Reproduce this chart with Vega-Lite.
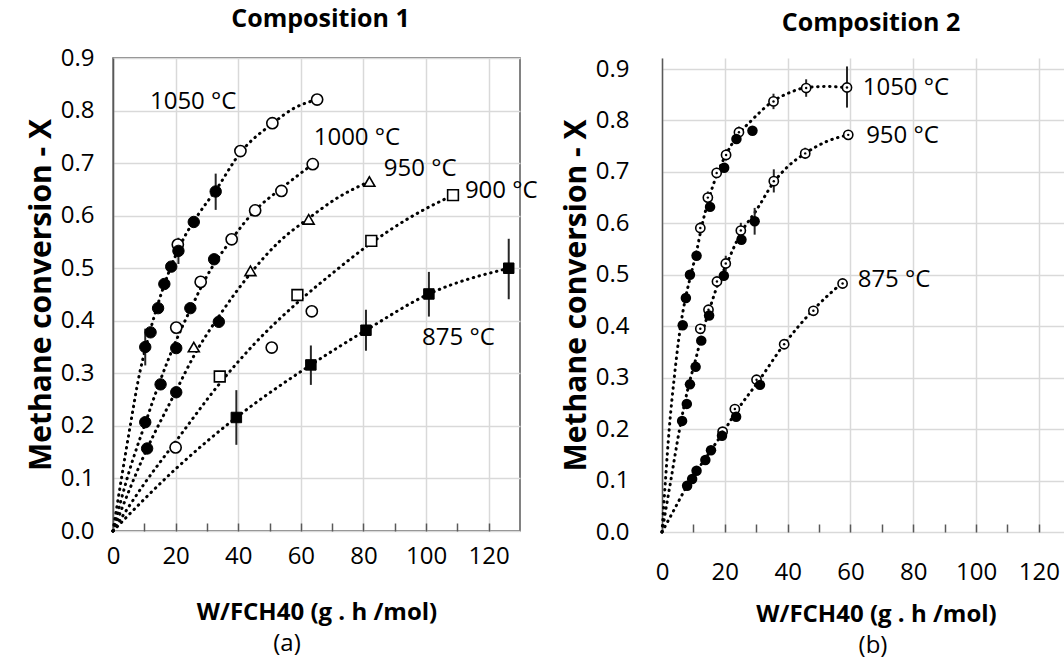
{
  "$schema": "https://vega.github.io/schema/vega-lite/v6.json",
  "background": "white",
  "padding": {"left": 25, "top": 6, "right": 0, "bottom": 0},
  "config": {
    "font": "Open Sans",
    "view": {"stroke": "#595959", "strokeWidth": 1.5},
    "axis": {
      "labelFontSize": 24, "labelColor": "black", "labelFont": "Open Sans",
      "titleFontSize": 24, "titleColor": "black", "titleFontWeight": "bold", "titleFont": "Open Sans",
      "gridColor": "#d9d9d9", "gridWidth": 1.5,
      "domainColor": "#595959", "domainWidth": 1.5,
      "tickColor": "#595959", "tickWidth": 1.5,
      "labelOverlap": false, "labelFlush": false
    },
    "axisY": {"titleFontSize": 30},
    "title": {"font": "Open Sans", "fontSize": 25, "fontWeight": "bold", "color": "black"}
  },
  "datasets": {
    "pts": [
      {"p": 1, "s": "1050", "m": "fc", "x": 10.3, "y": 0.350, "lo": 0.315, "hi": 0.385},
      {"p": 1, "s": "1050", "m": "fc", "x": 12.0, "y": 0.378},
      {"p": 1, "s": "1050", "m": "fc", "x": 14.4, "y": 0.424},
      {"p": 1, "s": "1050", "m": "fc", "x": 16.4, "y": 0.470},
      {"p": 1, "s": "1050", "m": "fc", "x": 18.6, "y": 0.503},
      {"p": 1, "s": "1050", "m": "fc", "x": 20.9, "y": 0.533, "lo": 0.508, "hi": 0.558},
      {"p": 1, "s": "1050", "m": "fc", "x": 25.8, "y": 0.588},
      {"p": 1, "s": "1050", "m": "fc", "x": 32.8, "y": 0.646, "lo": 0.611, "hi": 0.680},
      {"p": 1, "s": "1050", "m": "oc", "x": 20.7, "y": 0.545},
      {"p": 1, "s": "1050", "m": "oc", "x": 40.7, "y": 0.723},
      {"p": 1, "s": "1050", "m": "oc", "x": 50.9, "y": 0.776},
      {"p": 1, "s": "1050", "m": "oc", "x": 65.2, "y": 0.821},
      {"p": 1, "s": "1000", "m": "fc", "x": 10.3, "y": 0.207},
      {"p": 1, "s": "1000", "m": "fc", "x": 15.2, "y": 0.279},
      {"p": 1, "s": "1000", "m": "fc", "x": 20.2, "y": 0.348},
      {"p": 1, "s": "1000", "m": "fc", "x": 24.7, "y": 0.424},
      {"p": 1, "s": "1000", "m": "fc", "x": 32.3, "y": 0.517},
      {"p": 1, "s": "1000", "m": "oc", "x": 20.2, "y": 0.387},
      {"p": 1, "s": "1000", "m": "oc", "x": 28.0, "y": 0.474},
      {"p": 1, "s": "1000", "m": "oc", "x": 37.9, "y": 0.555},
      {"p": 1, "s": "1000", "m": "oc", "x": 45.4, "y": 0.610},
      {"p": 1, "s": "1000", "m": "oc", "x": 53.8, "y": 0.647},
      {"p": 1, "s": "1000", "m": "oc", "x": 63.8, "y": 0.698},
      {"p": 1, "s": "950", "m": "fc", "x": 10.9, "y": 0.157},
      {"p": 1, "s": "950", "m": "fc", "x": 20.2, "y": 0.264},
      {"p": 1, "s": "950", "m": "fc", "x": 33.8, "y": 0.398},
      {"p": 1, "s": "950", "m": "tri", "x": 25.8, "y": 0.350},
      {"p": 1, "s": "950", "m": "tri", "x": 43.9, "y": 0.495},
      {"p": 1, "s": "950", "m": "tri", "x": 62.5, "y": 0.593},
      {"p": 1, "s": "950", "m": "tri", "x": 81.9, "y": 0.665},
      {"p": 1, "s": "900", "m": "oc", "x": 20.0, "y": 0.159},
      {"p": 1, "s": "900", "m": "oc", "x": 50.7, "y": 0.349},
      {"p": 1, "s": "900", "m": "oc", "x": 63.5, "y": 0.418},
      {"p": 1, "s": "900", "m": "osq", "x": 34.1, "y": 0.294},
      {"p": 1, "s": "900", "m": "osq", "x": 58.9, "y": 0.449},
      {"p": 1, "s": "900", "m": "osq", "x": 82.5, "y": 0.552},
      {"p": 1, "s": "900", "m": "osq", "x": 108.6, "y": 0.639},
      {"p": 1, "s": "875", "m": "fsq", "x": 39.4, "y": 0.216, "lo": 0.164, "hi": 0.268},
      {"p": 1, "s": "875", "m": "fsq", "x": 63.2, "y": 0.316, "lo": 0.278, "hi": 0.353},
      {"p": 1, "s": "875", "m": "fsq", "x": 80.8, "y": 0.382, "lo": 0.343, "hi": 0.421},
      {"p": 1, "s": "875", "m": "fsq", "x": 100.9, "y": 0.451, "lo": 0.408, "hi": 0.493},
      {"p": 1, "s": "875", "m": "fsq", "x": 126.4, "y": 0.500, "lo": 0.441, "hi": 0.556},

      {"p": 2, "s": "1050", "m": "fc", "x": 6.6, "y": 0.402},
      {"p": 2, "s": "1050", "m": "fc", "x": 7.6, "y": 0.455},
      {"p": 2, "s": "1050", "m": "fc", "x": 8.9, "y": 0.500},
      {"p": 2, "s": "1050", "m": "fc", "x": 11.0, "y": 0.537},
      {"p": 2, "s": "1050", "m": "fc", "x": 15.3, "y": 0.632},
      {"p": 2, "s": "1050", "m": "fc", "x": 19.8, "y": 0.708},
      {"p": 2, "s": "1050", "m": "fc", "x": 23.7, "y": 0.764},
      {"p": 2, "s": "1050", "m": "fc", "x": 28.8, "y": 0.780},
      {"p": 2, "s": "1050", "m": "oc", "x": 12.2, "y": 0.591, "lo": 0.580, "hi": 0.602},
      {"p": 2, "s": "1050", "m": "oc", "x": 14.6, "y": 0.650, "lo": 0.638, "hi": 0.662},
      {"p": 2, "s": "1050", "m": "oc", "x": 17.4, "y": 0.698, "lo": 0.688, "hi": 0.708},
      {"p": 2, "s": "1050", "m": "oc", "x": 20.4, "y": 0.733, "lo": 0.722, "hi": 0.744},
      {"p": 2, "s": "1050", "m": "oc", "x": 24.5, "y": 0.777, "lo": 0.766, "hi": 0.788},
      {"p": 2, "s": "1050", "m": "oc", "x": 35.5, "y": 0.837, "lo": 0.822, "hi": 0.852},
      {"p": 2, "s": "1050", "m": "oc", "x": 45.9, "y": 0.863, "lo": 0.846, "hi": 0.880},
      {"p": 2, "s": "1050", "m": "oc", "x": 58.9, "y": 0.864, "lo": 0.825, "hi": 0.905},
      {"p": 2, "s": "950", "m": "fc", "x": 6.4, "y": 0.216},
      {"p": 2, "s": "950", "m": "fc", "x": 7.9, "y": 0.249},
      {"p": 2, "s": "950", "m": "fc", "x": 8.9, "y": 0.287},
      {"p": 2, "s": "950", "m": "fc", "x": 10.7, "y": 0.321},
      {"p": 2, "s": "950", "m": "fc", "x": 12.5, "y": 0.372},
      {"p": 2, "s": "950", "m": "fc", "x": 15.0, "y": 0.421},
      {"p": 2, "s": "950", "m": "fc", "x": 19.7, "y": 0.498},
      {"p": 2, "s": "950", "m": "fc", "x": 25.3, "y": 0.568},
      {"p": 2, "s": "950", "m": "fc", "x": 29.5, "y": 0.604, "lo": 0.578, "hi": 0.630},
      {"p": 2, "s": "950", "m": "oc", "x": 12.2, "y": 0.395},
      {"p": 2, "s": "950", "m": "oc", "x": 14.8, "y": 0.432},
      {"p": 2, "s": "950", "m": "oc", "x": 17.5, "y": 0.487},
      {"p": 2, "s": "950", "m": "oc", "x": 20.3, "y": 0.522, "lo": 0.507, "hi": 0.537},
      {"p": 2, "s": "950", "m": "oc", "x": 25.1, "y": 0.586, "lo": 0.571, "hi": 0.601},
      {"p": 2, "s": "950", "m": "oc", "x": 35.6, "y": 0.682, "lo": 0.660, "hi": 0.705},
      {"p": 2, "s": "950", "m": "oc", "x": 45.6, "y": 0.736, "lo": 0.725, "hi": 0.747},
      {"p": 2, "s": "950", "m": "oc", "x": 59.3, "y": 0.772},
      {"p": 2, "s": "875", "m": "fc", "x": 8.0, "y": 0.090},
      {"p": 2, "s": "875", "m": "fc", "x": 9.6, "y": 0.103},
      {"p": 2, "s": "875", "m": "fc", "x": 11.0, "y": 0.119},
      {"p": 2, "s": "875", "m": "fc", "x": 13.8, "y": 0.140},
      {"p": 2, "s": "875", "m": "fc", "x": 15.6, "y": 0.159},
      {"p": 2, "s": "875", "m": "fc", "x": 19.1, "y": 0.187},
      {"p": 2, "s": "875", "m": "fc", "x": 23.6, "y": 0.224},
      {"p": 2, "s": "875", "m": "fc", "x": 31.2, "y": 0.286},
      {"p": 2, "s": "875", "m": "oc", "x": 19.3, "y": 0.195},
      {"p": 2, "s": "875", "m": "oc", "x": 23.2, "y": 0.239},
      {"p": 2, "s": "875", "m": "oc", "x": 30.1, "y": 0.296},
      {"p": 2, "s": "875", "m": "oc", "x": 38.9, "y": 0.365},
      {"p": 2, "s": "875", "m": "oc", "x": 48.2, "y": 0.430},
      {"p": 2, "s": "875", "m": "oc", "x": 57.5, "y": 0.483}
    ],
    "trend": [
      {"p": 1, "s": "1050", "x": 0, "y": 0},
      {"p": 1, "s": "1050", "x": 2.7, "y": 0.1},
      {"p": 1, "s": "1050", "x": 5.5, "y": 0.2},
      {"p": 1, "s": "1050", "x": 8.5, "y": 0.3},
      {"p": 1, "s": "1050", "x": 10.5, "y": 0.35},
      {"p": 1, "s": "1050", "x": 14, "y": 0.425},
      {"p": 1, "s": "1050", "x": 18, "y": 0.495},
      {"p": 1, "s": "1050", "x": 22, "y": 0.55},
      {"p": 1, "s": "1050", "x": 27, "y": 0.6},
      {"p": 1, "s": "1050", "x": 33, "y": 0.65},
      {"p": 1, "s": "1050", "x": 40.7, "y": 0.72},
      {"p": 1, "s": "1050", "x": 50.9, "y": 0.775},
      {"p": 1, "s": "1050", "x": 58, "y": 0.805},
      {"p": 1, "s": "1050", "x": 65.2, "y": 0.821},
      {"p": 1, "s": "1000", "x": 0, "y": 0},
      {"p": 1, "s": "1000", "x": 5, "y": 0.11},
      {"p": 1, "s": "1000", "x": 10.3, "y": 0.205},
      {"p": 1, "s": "1000", "x": 15, "y": 0.285},
      {"p": 1, "s": "1000", "x": 20, "y": 0.36},
      {"p": 1, "s": "1000", "x": 25, "y": 0.425},
      {"p": 1, "s": "1000", "x": 30, "y": 0.485},
      {"p": 1, "s": "1000", "x": 37.9, "y": 0.555},
      {"p": 1, "s": "1000", "x": 45.4, "y": 0.61},
      {"p": 1, "s": "1000", "x": 53.8, "y": 0.652},
      {"p": 1, "s": "1000", "x": 63.8, "y": 0.698},
      {"p": 1, "s": "950", "x": 0, "y": 0},
      {"p": 1, "s": "950", "x": 10, "y": 0.145},
      {"p": 1, "s": "950", "x": 20, "y": 0.265},
      {"p": 1, "s": "950", "x": 26, "y": 0.335},
      {"p": 1, "s": "950", "x": 34, "y": 0.41},
      {"p": 1, "s": "950", "x": 43.9, "y": 0.49},
      {"p": 1, "s": "950", "x": 53, "y": 0.55},
      {"p": 1, "s": "950", "x": 62.5, "y": 0.595},
      {"p": 1, "s": "950", "x": 72, "y": 0.635},
      {"p": 1, "s": "950", "x": 81.9, "y": 0.665},
      {"p": 1, "s": "900", "x": 0, "y": 0},
      {"p": 1, "s": "900", "x": 10, "y": 0.09},
      {"p": 1, "s": "900", "x": 20, "y": 0.17},
      {"p": 1, "s": "900", "x": 34, "y": 0.28},
      {"p": 1, "s": "900", "x": 45, "y": 0.355},
      {"p": 1, "s": "900", "x": 59, "y": 0.435},
      {"p": 1, "s": "900", "x": 70, "y": 0.49},
      {"p": 1, "s": "900", "x": 82.5, "y": 0.548},
      {"p": 1, "s": "900", "x": 95, "y": 0.597},
      {"p": 1, "s": "900", "x": 108.6, "y": 0.639},
      {"p": 1, "s": "875", "x": 0, "y": 0},
      {"p": 1, "s": "875", "x": 20, "y": 0.118},
      {"p": 1, "s": "875", "x": 39.4, "y": 0.216},
      {"p": 1, "s": "875", "x": 63.2, "y": 0.316},
      {"p": 1, "s": "875", "x": 80.8, "y": 0.382},
      {"p": 1, "s": "875", "x": 100.9, "y": 0.451},
      {"p": 1, "s": "875", "x": 126.4, "y": 0.5},
      {"p": 2, "s": "1050", "x": 0, "y": 0},
      {"p": 2, "s": "1050", "x": 1.1, "y": 0.1},
      {"p": 2, "s": "1050", "x": 2.3, "y": 0.2},
      {"p": 2, "s": "1050", "x": 3.9, "y": 0.3},
      {"p": 2, "s": "1050", "x": 5.9, "y": 0.4},
      {"p": 2, "s": "1050", "x": 7.5, "y": 0.455},
      {"p": 2, "s": "1050", "x": 9.2, "y": 0.5},
      {"p": 2, "s": "1050", "x": 11, "y": 0.545},
      {"p": 2, "s": "1050", "x": 12.5, "y": 0.59},
      {"p": 2, "s": "1050", "x": 14.8, "y": 0.645},
      {"p": 2, "s": "1050", "x": 17.5, "y": 0.695},
      {"p": 2, "s": "1050", "x": 20.5, "y": 0.735},
      {"p": 2, "s": "1050", "x": 24, "y": 0.77},
      {"p": 2, "s": "1050", "x": 28.5, "y": 0.8},
      {"p": 2, "s": "1050", "x": 35.5, "y": 0.838},
      {"p": 2, "s": "1050", "x": 41, "y": 0.855},
      {"p": 2, "s": "1050", "x": 45.9, "y": 0.864},
      {"p": 2, "s": "1050", "x": 52, "y": 0.866},
      {"p": 2, "s": "1050", "x": 58.9, "y": 0.864},
      {"p": 2, "s": "950", "x": 0, "y": 0},
      {"p": 2, "s": "950", "x": 2.8, "y": 0.1},
      {"p": 2, "s": "950", "x": 5.6, "y": 0.2},
      {"p": 2, "s": "950", "x": 8.3, "y": 0.28},
      {"p": 2, "s": "950", "x": 10.7, "y": 0.335},
      {"p": 2, "s": "950", "x": 13, "y": 0.39},
      {"p": 2, "s": "950", "x": 15.5, "y": 0.44},
      {"p": 2, "s": "950", "x": 18, "y": 0.485},
      {"p": 2, "s": "950", "x": 20.5, "y": 0.52},
      {"p": 2, "s": "950", "x": 25, "y": 0.58},
      {"p": 2, "s": "950", "x": 30, "y": 0.625},
      {"p": 2, "s": "950", "x": 35.6, "y": 0.68},
      {"p": 2, "s": "950", "x": 40, "y": 0.71},
      {"p": 2, "s": "950", "x": 45.6, "y": 0.736},
      {"p": 2, "s": "950", "x": 52, "y": 0.758},
      {"p": 2, "s": "950", "x": 59.3, "y": 0.772},
      {"p": 2, "s": "875", "x": 0, "y": 0},
      {"p": 2, "s": "875", "x": 4, "y": 0.045},
      {"p": 2, "s": "875", "x": 8, "y": 0.09},
      {"p": 2, "s": "875", "x": 11, "y": 0.118},
      {"p": 2, "s": "875", "x": 15.6, "y": 0.159},
      {"p": 2, "s": "875", "x": 19.2, "y": 0.191},
      {"p": 2, "s": "875", "x": 23.4, "y": 0.232},
      {"p": 2, "s": "875", "x": 30.6, "y": 0.292},
      {"p": 2, "s": "875", "x": 38.9, "y": 0.365},
      {"p": 2, "s": "875", "x": 48.2, "y": 0.432},
      {"p": 2, "s": "875", "x": 57.5, "y": 0.485}
    ],
    "labels": [
      {"p": 1, "x": 11.8, "y": 0.816, "t": "1050 °C"},
      {"p": 1, "x": 64.1, "y": 0.748, "t": "1000 °C"},
      {"p": 1, "x": 86.5, "y": 0.689, "t": "950 °C"},
      {"p": 1, "x": 112.4, "y": 0.647, "t": "900 °C"},
      {"p": 1, "x": 98.7, "y": 0.367, "t": "875 °C"},
      {"p": 2, "x": 63.9, "y": 0.864, "t": "1050 °C"},
      {"p": 2, "x": 65.0, "y": 0.769, "t": "950 °C"},
      {"p": 2, "x": 62.3, "y": 0.489, "t": "875 °C"}
    ]
  },
  "spacing": 22,
  "hconcat": [
    {
      "title": {"text": "(a)", "orient": "bottom", "anchor": "middle", "frame": "group", "fontWeight": "normal", "fontSize": 24, "offset": 7, "dx": 174},
      "vconcat": [
        {
          "width": 407,
          "height": 473,
          "title": {"text": "Composition 1", "offset": 14, "dx": 4},
          "encoding": {
            "x": {"field": "x", "type": "quantitative", "title": "W/FCH40  (g . h /mol)",
              "scale": {"domain": [0, 130], "nice": false, "zero": false},
              "axis": {"values": [0, 10, 20, 30, 40, 50, 60, 70, 80, 90, 100, 110, 120],
                "labelExpr": "datum.value % 20 === 0 ? datum.label : ''",
                "gridOpacity": {"condition": {"test": "datum.value % 20 === 0", "value": 1}, "value": 0},
                "domain": false, "offset": -8, "tickSize": 8, "labelPadding": 13, "titlePadding": 32}},
            "y": {"field": "y", "type": "quantitative", "title": "Methane conversion - X",
              "scale": {"domain": [0, 0.9], "nice": false, "zero": false},
              "axis": {"values": [0, 0.1, 0.2, 0.3, 0.4, 0.5, 0.6, 0.7, 0.8, 0.9], "format": ".1f",
                "ticks": false, "labelPadding": 19, "titlePadding": 4}}
          },
          "layer": [
            {"data": {"name": "trend"}, "transform": [{"filter": "datum.p == 1"}],
              "mark": {"type": "line", "interpolate": "monotone", "strokeDash": [0.5, 5.5], "strokeCap": "round", "strokeWidth": 3, "color": "black"},
              "encoding": {"detail": {"field": "s"}}},
            {"data": {"name": "pts"}, "transform": [{"filter": "datum.p == 1 && isValid(datum.lo)"}],
              "mark": {"type": "rule", "color": "#262626", "strokeWidth": 2},
              "encoding": {"y": {"field": "lo", "type": "quantitative", "title": "Methane conversion - X"}, "y2": {"field": "hi"}}},
            {"data": {"name": "pts"}, "transform": [{"filter": "datum.p == 1 && (datum.m == 'oc' || datum.m == 'tri' || datum.m == 'osq')"}],
              "mark": {"type": "point", "filled": true, "fill": "white", "stroke": "black", "strokeWidth": 1.6, "opacity": 1},
              "encoding": {
                "shape": {"field": "m", "scale": {"domain": ["fc", "oc", "tri", "osq", "fsq"], "range": ["circle", "circle", "triangle-up", "square", "square"]}, "legend": null},
                "size": {"field": "m", "scale": {"domain": ["fc", "oc", "tri", "osq", "fsq"], "range": [130, 110, 85, 130, 140]}, "legend": null}}},
            {"data": {"name": "pts"}, "transform": [{"filter": "datum.p == 1 && (datum.m == 'fc' || datum.m == 'fsq')"}],
              "mark": {"type": "point", "filled": true, "fill": "black", "stroke": "black", "strokeWidth": 1, "opacity": 1},
              "encoding": {
                "shape": {"field": "m", "scale": {"domain": ["fc", "oc", "tri", "osq", "fsq"], "range": ["circle", "circle", "triangle-up", "square", "square"]}, "legend": null},
                "size": {"field": "m", "scale": {"domain": ["fc", "oc", "tri", "osq", "fsq"], "range": [130, 110, 85, 130, 140]}, "legend": null}}},
            {"data": {"name": "labels"}, "transform": [{"filter": "datum.p == 1"}],
              "mark": {"type": "text", "align": "left", "baseline": "middle", "fontSize": 24, "font": "Open Sans", "color": "black"},
              "encoding": {"text": {"field": "t"}}}
          ]
        }
      ]
    },
    {
      "title": {"text": "(b)", "orient": "bottom", "anchor": "middle", "frame": "group", "fontWeight": "normal", "fontSize": 24, "offset": 8, "dx": 211},
      "vconcat": [
        {
          "width": 402,
          "height": 474,
          "view": {"stroke": null},
          "title": {"text": "Composition 2", "offset": 21, "dx": 8},
          "encoding": {
            "x": {"field": "x", "type": "quantitative", "title": "W/FCH40  (g . h /mol)",
              "scale": {"domain": [0, 128], "nice": false, "zero": false},
              "axis": {"values": [0, 10, 20, 30, 40, 50, 60, 70, 80, 90, 100, 110, 120],
                "labelExpr": "datum.value % 20 === 0 ? datum.label : ''",
                "gridOpacity": {"condition": {"test": "datum.value % 20 === 0", "value": 1}, "value": 0},
                "domain": false, "offset": -8, "tickSize": 8, "labelPadding": 28, "titlePadding": 18, "titleX": 214}},
            "y": {"field": "y", "type": "quantitative", "title": "Methane conversion - X",
              "scale": {"domain": [0, 0.9214], "nice": false, "zero": false},
              "axis": {"values": [0, 0.1, 0.2, 0.3, 0.4, 0.5, 0.6, 0.7, 0.8, 0.9], "format": ".1f",
                "ticks": false, "labelPadding": 33, "titlePadding": 4}}
          },
          "layer": [
            {"mark": {"type": "rule", "color": "#595959", "strokeWidth": 1.5},
              "encoding": {"y": {"datum": 0.916, "type": "quantitative"}, "x": null}},
            {"mark": {"type": "rule", "color": "#595959", "strokeWidth": 1.5},
              "encoding": {"y": {"datum": 0, "type": "quantitative"}, "x": null}},
            {"data": {"name": "trend"}, "transform": [{"filter": "datum.p == 2"}],
              "mark": {"type": "line", "interpolate": "monotone", "strokeDash": [0.5, 5.5], "strokeCap": "round", "strokeWidth": 3, "color": "black"},
              "encoding": {"detail": {"field": "s"}}},
            {"data": {"name": "pts"}, "transform": [{"filter": "datum.p == 2 && isValid(datum.lo)"}],
              "mark": {"type": "rule", "color": "#262626", "strokeWidth": 2},
              "encoding": {"y": {"field": "lo", "type": "quantitative", "title": "Methane conversion - X"}, "y2": {"field": "hi"}}},
            {"data": {"name": "pts"}, "transform": [{"filter": "datum.p == 2 && datum.m == 'oc'"}],
              "mark": {"type": "point", "shape": "circle", "size": 85, "filled": true, "fill": "white", "stroke": "black", "strokeWidth": 1.6, "opacity": 1}},
            {"data": {"name": "pts"}, "transform": [{"filter": "datum.p == 2 && datum.m == 'oc'"}],
              "mark": {"type": "point", "shape": "circle", "size": 6, "filled": true, "fill": "black", "opacity": 1}},
            {"data": {"name": "pts"}, "transform": [{"filter": "datum.p == 2 && datum.m == 'fc'"}],
              "mark": {"type": "point", "shape": "circle", "size": 110, "filled": true, "fill": "black", "opacity": 1}},
            {"data": {"name": "labels"}, "transform": [{"filter": "datum.p == 2"}],
              "mark": {"type": "text", "align": "left", "baseline": "middle", "fontSize": 24, "font": "Open Sans", "color": "black"},
              "encoding": {"text": {"field": "t"}}}
          ]
        }
      ]
    }
  ]
}
